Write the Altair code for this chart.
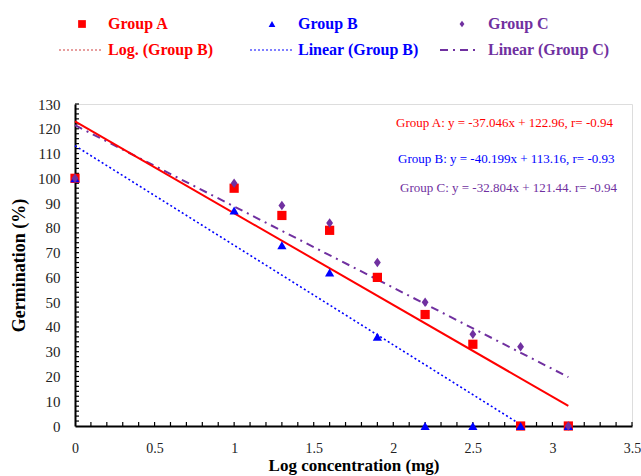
import altair as alt
import pandas as pd

# ---------------- data ----------------
log_conc = [0, 1, 1.3, 1.6, 1.9, 2.2, 2.5, 2.8, 3.1]
group_a = [100, 96, 85, 79, 60, 45, 33, 0, 0]
group_b = [100, 87, 73, 62, 36, 0, 0, 0, 0]
group_c = [100, 98, 89, 82, 66, 50, 37, 32, 0]

trend_names = ["A", "B", "C"]
trend_x_start = [0, 0, 0]
trend_x_end = [3.1, 2.8, 3.1]
trend_y_start = [122.96, 113.16, 121.44]
trend_y_end = [8.12, 0.6, 19.75]

x_tick_labels = [0, 0.5, 1, 1.5, 2, 2.5, 3, 3.5]
y_tick_labels = [0, 10, 20, 30, 40, 50, 60, 70, 80, 90, 100, 110, 120, 130]
x_minor_ticks = [round(i / 10, 1) for i in range(1, 36)]
y_minor_ticks = list(range(2, 131, 2))

equations = [
    "Group A: y = -37.046x  + 122.96, r= -0.94",
    "Group B: y = -40.199x  + 113.16, r=  -0.93",
    "Group C: y = -32.804x  + 121.44. r= -0.94",
]

RED = "#ff0000"
BLUE = "#0000ff"
PURPLE = "#7030a0"
W, H = 557, 322
SERIF = "Liberation Serif"

xs = alt.Scale(domain=[0, 3.5], nice=False, zero=False)
ys = alt.Scale(domain=[0, 130], nice=False)

pts = pd.DataFrame({"x": log_conc * 3,
                    "v": group_a + group_b + group_c,
                    "g": ["A"] * 9 + ["B"] * 9 + ["C"] * 9})
trend = pd.DataFrame({"g": trend_names, "x0": trend_x_start, "x1": trend_x_end,
                      "y0": trend_y_start, "y1": trend_y_end})

xaxis = alt.Axis(values=x_tick_labels, format="~g", ticks=False, tickSize=0, grid=False,
                 labelOverlap=False, labelFlush=False,
                 domainColor="black", domainWidth=2, labelFont=SERIF, labelFontSize=14,
                 labelColor="#222", labelPadding=15, title="Log concentration (mg)",
                 titleFont=SERIF, titleFontSize=17, titleFontWeight="bold", titleColor="black",
                 titlePadding=2)
yaxis = alt.Axis(values=y_tick_labels, ticks=False, tickSize=0, grid=False,
                 labelOverlap=False, labelFlush=False,
                 domainColor="black", domainWidth=2, labelFont=SERIF, labelFontSize=15,
                 labelColor="#222", labelPadding=15, title="Germination (%)",
                 titleFont=SERIF, titleFontSize=18, titleFontWeight="bold", titleColor="black",
                 titlePadding=9)


def X(field):
    return alt.X(field, scale=xs, axis=xaxis)


def Y(field):
    return alt.Y(field, scale=ys, axis=yaxis)


def trend_line(g, color, dash, width):
    enc_ch = alt.Chart(trend[trend.g == g])
    m = enc_ch.mark_rule(color=color, strokeWidth=width, strokeDash=dash) if dash else \
        enc_ch.mark_rule(color=color, strokeWidth=width)
    return m.encode(x=X("x0:Q"), x2="x1:Q", y=Y("y0:Q"), y2="y1:Q")


line_a = trend_line("A", RED, None, 2)
line_b = trend_line("B", BLUE, [2, 2.5], 1.6)
line_c = trend_line("C", PURPLE, [8, 5, 2, 5], 2)

DIAMOND = "M0,-1L0.72,0L0,1L-0.72,0Z"


def points(g, shape, color, size):
    return alt.Chart(pts[pts.g == g]).mark_point(
        shape=shape, filled=True, color=color, size=size, opacity=1).encode(
        x=X("x:Q"), y=Y("v:Q"))


pa = points("A", "square", RED, 85)
pb = points("B", "triangle-up", BLUE, 85)
pc = points("C", DIAMOND, PURPLE, 90)

# inward ticks
xt_minor = alt.Chart(pd.DataFrame({"t": x_minor_ticks})).mark_rule(color="black", strokeWidth=1.2).encode(
    x=X("t:Q"), y=alt.value(H), y2=alt.value(H - 4))
yt_minor = alt.Chart(pd.DataFrame({"t": y_minor_ticks})).mark_rule(color="black", strokeWidth=1.2).encode(
    y=Y("t:Q"), x=alt.value(0), x2=alt.value(4))

# equations
eq_layers = []
for txt, col, yy, xx in zip(equations, [RED, BLUE, PURPLE], [19, 55, 84], [321, 323, 325]):
    eq_layers.append(alt.Chart(pd.DataFrame({"t": [txt]})).mark_text(
        font=SERIF, fontSize=13, color=col, align="left", baseline="middle").encode(
        x=alt.value(xx), y=alt.value(yy), text="t:N"))

# legend
leg = []
legend_labels = ["Group A", "Group B", "Group C",
                 "Log. (Group B)", "Linear (Group B)", "Linear (Group C)"]
leg_colors = [RED, BLUE, PURPLE, RED, BLUE, PURPLE]
leg_x = [33, 223, 413, 33, 223, 413]
leg_y = [-80, -80, -80, -54, -54, -54]
for lab, col, lx, ly in zip(legend_labels, leg_colors, leg_x, leg_y):
    leg.append(alt.Chart(pd.DataFrame({"t": [lab]})).mark_text(
        font=SERIF, fontSize=16, fontWeight="bold", color=col, align="left", baseline="middle").encode(
        x=alt.value(lx), y=alt.value(ly), text="t:N"))
one = pd.DataFrame({"a": [0]})
leg.append(alt.Chart(one).mark_point(shape="square", filled=True, color=RED, size=60, opacity=1).encode(
    x=alt.value(7), y=alt.value(-80)))
leg.append(alt.Chart(one).mark_point(shape="triangle-up", filled=True, color=BLUE, size=45, opacity=1).encode(
    x=alt.value(197), y=alt.value(-80)))
leg.append(alt.Chart(one).mark_point(shape=DIAMOND, filled=True, color=PURPLE, size=45, opacity=1).encode(
    x=alt.value(387), y=alt.value(-80)))
leg.append(alt.Chart(one).mark_rule(color="#d04040", strokeWidth=1.2, strokeDash=[2, 2]).encode(
    x=alt.value(-16), x2=alt.value(27), y=alt.value(-54)))
leg.append(alt.Chart(one).mark_rule(color=BLUE, strokeWidth=1.2, strokeDash=[2, 2]).encode(
    x=alt.value(175), x2=alt.value(217), y=alt.value(-54)))
leg.append(alt.Chart(one).mark_rule(color=PURPLE, strokeWidth=2, strokeDash=[8, 5, 2, 5]).encode(
    x=alt.value(365), x2=alt.value(405), y=alt.value(-54)))

chart = alt.layer(xt_minor, yt_minor, line_b, line_c, line_a, pa, pb, pc,
                  *eq_layers, *leg).properties(
    width=W, height=H,
    autosize=alt.AutoSizeParams(type="none"),
    padding={"left": 75, "top": 104, "right": 9, "bottom": 50},
).configure_view(stroke=None).configure(background="white")

chart.save("out.html", embed_options={"renderer": "svg", "actions": False})
